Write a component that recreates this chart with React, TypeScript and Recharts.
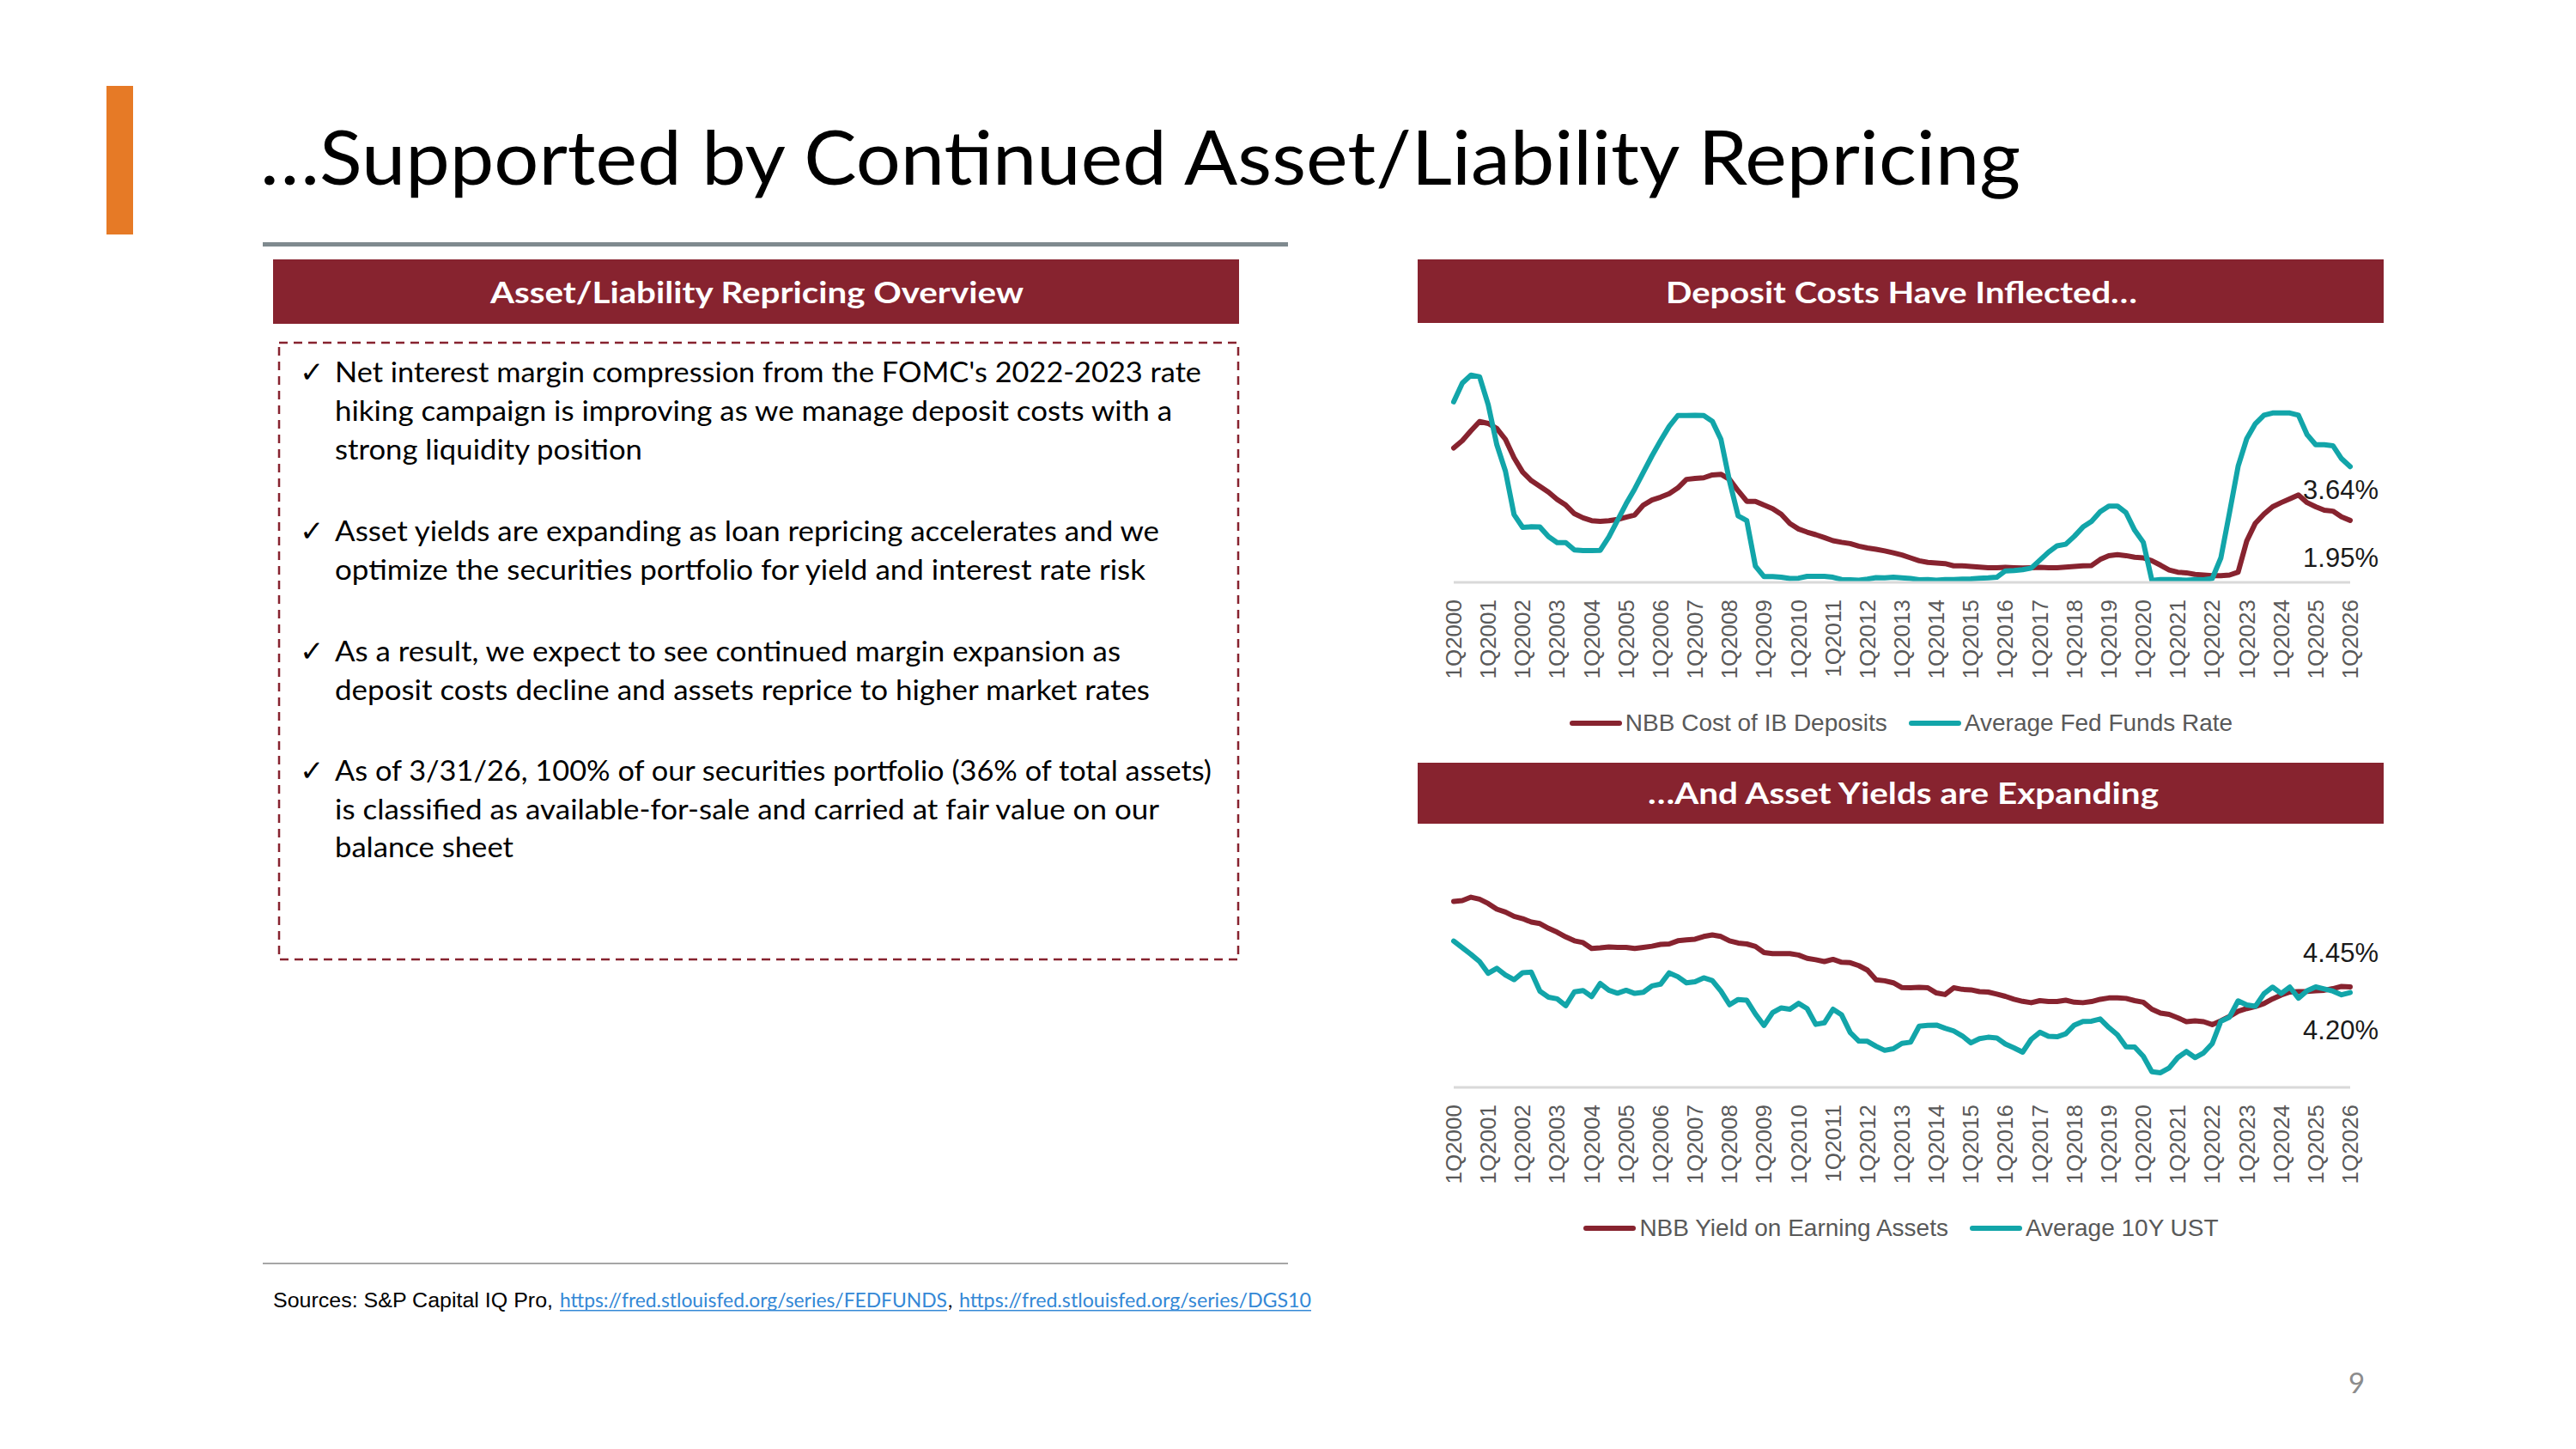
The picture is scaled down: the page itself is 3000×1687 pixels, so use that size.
import React from 'react';
import { LineChart, Line, XAxis, YAxis, Legend, LabelList } from 'recharts';

const RED = '#87232f';
const TEAL = '#12a5a9';
const AXIS_GREY = '#d9d9d9';
const TICK_GREY = '#595959';
const CHART_FONT = '"Liberation Sans", Arial, sans-serif';
const SLIDE_FONT = 'Lato, "Open Sans", sans-serif';

// quarter labels 1Q2000 .. 1Q2026
const years = [
  2000, 2001, 2002, 2003, 2004, 2005, 2006, 2007, 2008, 2009, 2010, 2011, 2012, 2013,
  2014, 2015, 2016, 2017, 2018, 2019, 2020, 2021, 2022, 2023, 2024, 2025, 2026,
];
const quarters: string[] = [];
years.forEach((y) => {
  [1, 2, 3, 4].forEach((q) => {
    if (y < 2026 || q === 1) quarters.push(`${q}Q${y}`);
  });
});

// NBB cost of interest-bearing deposits (%)
const ibDepositCost = [
  4.23, 4.46, 4.77, 5.06, 5.0, 4.84, 4.5, 3.92, 3.47, 3.2, 3.02, 2.84,
  2.61, 2.43, 2.16, 2.03, 1.94, 1.92, 1.94, 1.98, 2.05, 2.12, 2.43, 2.59,
  2.68, 2.79, 2.97, 3.24, 3.27, 3.29, 3.38, 3.4, 3.24, 2.88, 2.55, 2.55,
  2.43, 2.32, 2.14, 1.85, 1.68, 1.58, 1.5, 1.41, 1.31, 1.26, 1.22, 1.14,
  1.08, 1.04, 0.99, 0.93, 0.86, 0.77, 0.68, 0.63, 0.61, 0.59, 0.52, 0.52,
  0.5, 0.48, 0.46, 0.46, 0.47, 0.46, 0.45, 0.46, 0.47, 0.46, 0.46, 0.48,
  0.5, 0.52, 0.53, 0.72, 0.84, 0.87, 0.84, 0.79, 0.77, 0.68, 0.54, 0.39,
  0.32, 0.3, 0.25, 0.23, 0.21, 0.21, 0.23, 0.32, 1.3, 1.86, 2.15, 2.38,
  2.51, 2.63, 2.75, 2.51, 2.38, 2.27, 2.24, 2.06, 1.95,
];

// average effective fed funds rate (%)
const fedFundsRate = [
  5.68, 6.27, 6.52, 6.47, 5.59, 4.33, 3.5, 2.13, 1.73, 1.75, 1.74, 1.44,
  1.25, 1.25, 1.02, 1.0, 1.0, 1.01, 1.43, 1.95, 2.47, 2.94, 3.46, 3.98,
  4.46, 4.91, 5.25, 5.25, 5.26, 5.25, 5.07, 4.5, 3.18, 2.09, 1.94, 0.51,
  0.18, 0.18, 0.16, 0.12, 0.13, 0.19, 0.19, 0.19, 0.16, 0.09, 0.08, 0.07,
  0.1, 0.15, 0.14, 0.16, 0.14, 0.12, 0.08, 0.09, 0.07, 0.09, 0.09, 0.1,
  0.11, 0.13, 0.14, 0.16, 0.36, 0.37, 0.4, 0.45, 0.7, 0.95, 1.15, 1.2,
  1.45, 1.74, 1.92, 2.22, 2.4, 2.4, 2.19, 1.64, 1.26, 0.06, 0.09, 0.09,
  0.08, 0.07, 0.09, 0.08, 0.12, 0.77, 2.19, 3.65, 4.52, 4.99, 5.26, 5.33,
  5.33, 5.33, 5.26, 4.65, 4.33, 4.33, 4.3, 3.89, 3.64,
];

// NBB yield on earning assets (%)
const earningAssetYield = [
  8.23, 8.27, 8.42, 8.33, 8.14, 7.89, 7.76, 7.57, 7.47, 7.32, 7.25, 7.04,
  6.87, 6.66, 6.49, 6.41, 6.15, 6.18, 6.22, 6.2, 6.2, 6.15, 6.2, 6.25,
  6.33, 6.35, 6.49, 6.53, 6.56, 6.68, 6.75, 6.68, 6.49, 6.39, 6.35, 6.24,
  5.97, 5.92, 5.92, 5.92, 5.86, 5.71, 5.65, 5.57, 5.67, 5.54, 5.52, 5.39,
  5.19, 4.76, 4.72, 4.63, 4.42, 4.41, 4.43, 4.41, 4.18, 4.11, 4.41, 4.34,
  4.32, 4.24, 4.22, 4.13, 4.03, 3.9, 3.81, 3.75, 3.84, 3.8, 3.8, 3.86,
  3.77, 3.75, 3.8, 3.9, 3.96, 3.96, 3.94, 3.84, 3.77, 3.46, 3.29, 3.23,
  3.08, 2.91, 2.95, 2.91, 2.78, 2.95, 3.14, 3.37, 3.49, 3.58, 3.71, 3.92,
  4.09, 4.22, 4.24, 4.25, 4.28, 4.3, 4.37, 4.47, 4.45,
];

// average 10-year treasury yield (%)
const tenYearUst = [
  6.48, 6.18, 5.89, 5.57, 5.05, 5.27, 4.98, 4.77, 5.08, 5.1, 4.26, 3.99,
  3.92, 3.62, 4.23, 4.29, 4.02, 4.6, 4.3, 4.17, 4.3, 4.16, 4.21, 4.49,
  4.57, 5.07, 4.9, 4.63, 4.68, 4.85, 4.73, 4.26, 3.66, 3.89, 3.86, 3.25,
  2.74, 3.31, 3.52, 3.46, 3.72, 3.49, 2.79, 2.86, 3.46, 3.21, 2.43, 2.05,
  2.04, 1.82, 1.64, 1.71, 1.95, 2.0, 2.71, 2.75, 2.76, 2.62, 2.5, 2.28,
  1.97, 2.16, 2.22, 2.19, 1.92, 1.75, 1.56, 2.13, 2.44, 2.26, 2.24, 2.37,
  2.76, 2.92, 2.93, 3.03, 2.65, 2.33, 1.8, 1.79, 1.38, 0.69, 0.65, 0.86,
  1.32, 1.59, 1.32, 1.53, 1.94, 2.93, 3.11, 3.83, 3.65, 3.59, 4.15, 4.44,
  4.16, 4.44, 3.95, 4.28, 4.45, 4.36, 4.26, 4.1, 4.2,
];

const depositRows = quarters.map((quarter, i) => ({
  quarter,
  cost: ibDepositCost[i],
  fed: fedFundsRate[i],
}));

const yieldRows = quarters.map((quarter, i) => ({
  quarter,
  yld: earningAssetYield[i],
  ust: tenYearUst[i],
}));

const bulletLines = [
  { text: "Net interest margin compression from the FOMC's 2022-2023 rate", y: 445, w: 1009, check: true },
  { text: 'hiking campaign is improving as we manage deposit costs with a', y: 490, w: 975, check: false },
  { text: 'strong liquidity position', y: 535, w: 358, check: false },
  { text: 'Asset yields are expanding as loan repricing accelerates and we', y: 630, w: 960, check: true },
  { text: 'optimize the securities portfolio for yield and interest rate risk', y: 675, w: 944, check: false },
  { text: 'As a result, we expect to see continued margin expansion as', y: 770, w: 915, check: true },
  { text: 'deposit costs decline and assets reprice to higher market rates', y: 815, w: 949, check: false },
  { text: 'As of 3/31/26, 100% of our securities portfolio (36% of total assets)', y: 909, w: 1021, check: true },
  { text: 'is classified as available-for-sale and carried at fair value on our', y: 954, w: 960, check: false },
  { text: 'balance sheet', y: 998, w: 208, check: false },
];

const QuarterTick = (props: any) => {
  const { x, payload, labelY } = props;
  return (
    <text
      x={x}
      y={labelY}
      transform={`rotate(-90, ${x}, ${labelY})`}
      textAnchor="end"
      dominantBaseline="central"
      fontFamily={CHART_FONT}
      fontSize={26}
      fill={TICK_GREY}
    >
      {payload.value}
    </text>
  );
};

// legend keeps the series drawing order instead of alphabetical
const LegendRow = ({ payload, order }: any) => {
  const items = [...(payload || [])].sort(
    (a: any, b: any) => order.indexOf(a.dataKey) - order.indexOf(b.dataKey),
  );
  return (
    <div
      style={{
        display: 'flex',
        justifyContent: 'center',
        alignItems: 'center',
        height: 30,
        fontFamily: CHART_FONT,
        fontSize: 28,
        color: TICK_GREY,
      }}
    >
      {items.map((item: any, i: number) => (
        <div key={i} style={{ display: 'flex', alignItems: 'center', marginLeft: i ? 25 : 0 }}>
          <svg width={61} height={10}>
            <line x1={3} y1={5} x2={58} y2={5} stroke={item.color} strokeWidth={6} strokeLinecap="round" />
          </svg>
          <span style={{ marginLeft: 4, whiteSpace: 'nowrap' }}>{item.value}</span>
        </div>
      ))}
    </div>
  );
};

// value label next to the latest quarter only
const endLabel = (dy: number) => (props: any) => {
  const last = quarters.length - 1;
  const isLast = props.index === last || props.payload?.quarter === quarters[last];
  if (!isLast) return null;
  const x = props.x ?? props.viewBox?.x;
  const y = props.y ?? props.viewBox?.y;
  return (
    <text
      x={x + 33}
      y={y + dy}
      textAnchor="end"
      dominantBaseline="central"
      fontFamily={CHART_FONT}
      fontSize={31}
      fill="#1a1a1a"
    >
      {`${Number(props.value).toFixed(2)}%`}
    </text>
  );
};

type SeriesDef = { key: string; name: string; color: string; labelDy: number };

type RateChartProps = {
  top: number;
  data: any[];
  series: SeriesDef[];
  plotTop: number;
  plotBottom: number;
  yMax: number;
  legendTop: number;
};

const CHART_W = 1126;
const CHART_H = 500;

function RateChart({ top, data, series, plotTop, plotBottom, yMax, legendTop }: RateChartProps) {
  return (
    <div style={{ position: 'absolute', left: 1651, top, width: CHART_W, height: CHART_H }}>
      <LineChart
        width={CHART_W}
        height={CHART_H}
        data={data}
        margin={{ top: plotTop, right: 40, left: 42, bottom: 0 }}
      >
        <XAxis
          dataKey="quarter"
          interval={3}
          tickLine={false}
          axisLine={{ stroke: AXIS_GREY, strokeWidth: 3 }}
          height={CHART_H - plotBottom}
          tick={<QuarterTick labelY={plotBottom + 20} />}
        />
        <YAxis hide type="number" domain={[0, yMax]} />
        <Legend
          verticalAlign="middle"
          align="center"
          layout="horizontal"
          content={<LegendRow order={series.map((s) => s.key)} />}
          wrapperStyle={{ top: legendTop, left: 0, width: CHART_W, height: 30 }}
        />
        {series.map((s) => (
          <Line
            key={s.key}
            type="linear"
            dataKey={s.key}
            name={s.name}
            stroke={s.color}
            strokeWidth={6}
            strokeLinejoin="round"
            strokeLinecap="round"
            dot={false}
            activeDot={false}
            isAnimationActive={false}
          >
            <LabelList dataKey={s.key} content={endLabel(s.labelDy)} />
          </Line>
        ))}
      </LineChart>
    </div>
  );
}

export default function App() {
  return (
    <div
      style={{
        position: 'absolute',
        left: 0,
        top: 0,
        width: 3000,
        height: 1687,
        background: '#ffffff',
        overflow: 'hidden',
      }}
    >
      <svg width={3000} height={1687} style={{ position: 'absolute', left: 0, top: 0 }}>
        <rect x={124} y={100} width={31} height={173} fill="#e67a26" />
        <text
          x={303}
          y={215}
          fontFamily={SLIDE_FONT}
          fontSize={88}
          textLength={2050}
          lengthAdjust="spacingAndGlyphs"
          fill="#000"
        >
          …Supported by Continued Asset/Liability Repricing
        </text>
        <rect x={306} y={282} width={1194} height={5} fill="#7f8a8f" />

        {/* left panel */}
        <rect x={318} y={302} width={1125} height={75} fill={RED} />
        <text
          x={571}
          y={353}
          fontFamily={SLIDE_FONT}
          fontWeight={700}
          fontSize={35}
          textLength={621}
          lengthAdjust="spacingAndGlyphs"
          fill="#fff"
        >
          Asset/Liability Repricing Overview
        </text>
        <rect
          x={325}
          y={399}
          width={1117}
          height={718}
          fill="none"
          stroke={RED}
          strokeWidth={2.5}
          strokeDasharray="10 7"
        />
        {bulletLines.map((l, i) => (
          <g key={i}>
            {l.check && (
              <text x={349} y={l.y} fontFamily='"DejaVu Sans", sans-serif' fontSize={34} fill="#000">
                ✓
              </text>
            )}
            <text
              x={390}
              y={l.y}
              fontFamily={SLIDE_FONT}
              fontSize={32}
              textLength={l.w}
              lengthAdjust="spacingAndGlyphs"
              fill="#000"
            >
              {l.text}
            </text>
          </g>
        ))}

        {/* right panel headers */}
        <rect x={1651} y={302} width={1125} height={74} fill={RED} />
        <text
          x={1940}
          y={353}
          fontFamily={SLIDE_FONT}
          fontWeight={700}
          fontSize={35}
          textLength={549}
          lengthAdjust="spacingAndGlyphs"
          fill="#fff"
        >
          Deposit Costs Have Inflected…
        </text>
        <rect x={1651} y={888} width={1125} height={71} fill={RED} />
        <text
          x={1919}
          y={936}
          fontFamily={SLIDE_FONT}
          fontWeight={700}
          fontSize={35}
          textLength={595}
          lengthAdjust="spacingAndGlyphs"
          fill="#fff"
        >
          …And Asset Yields are Expanding
        </text>

        {/* footer */}
        <rect x={306} y={1470} width={1194} height={2} fill="#a6a6a6" />
        <text
          x={318}
          y={1522}
          fontFamily={CHART_FONT}
          fontSize={23}
          textLength={326}
          lengthAdjust="spacingAndGlyphs"
          fill="#000"
        >
          Sources: S&amp;P Capital IQ Pro,
        </text>
        <text
          x={652}
          y={1522}
          fontFamily={SLIDE_FONT}
          fontSize={23}
          textLength={451}
          lengthAdjust="spacingAndGlyphs"
          fill="#3388d6"
        >
          https://fred.stlouisfed.org/series/FEDFUNDS
        </text>
        <rect x={652} y={1525} width={451} height={1.5} fill="#3388d6" />
        <text x={1104} y={1522} fontFamily={SLIDE_FONT} fontSize={23} fill="#000">
          ,
        </text>
        <text
          x={1117}
          y={1522}
          fontFamily={SLIDE_FONT}
          fontSize={23}
          textLength={410}
          lengthAdjust="spacingAndGlyphs"
          fill="#3388d6"
        >
          https://fred.stlouisfed.org/series/DGS10
        </text>
        <rect x={1117} y={1525} width={410} height={1.5} fill="#3388d6" />
        <text x={2735} y={1622} fontFamily={SLIDE_FONT} fontSize={33} fill="#8c8c8c">
          9
        </text>
      </svg>

      <RateChart
        top={380}
        data={depositRows}
        series={[
          { key: 'cost', name: 'NBB Cost of IB Deposits', color: RED, labelDy: 44 },
          { key: 'fed', name: 'Average Fed Funds Rate', color: TEAL, labelDy: 27 },
        ]}
        plotTop={2}
        plotBottom={298}
        yMax={8}
        legendTop={447}
      />
      <RateChart
        top={960}
        data={yieldRows}
        series={[
          { key: 'yld', name: 'NBB Yield on Earning Assets', color: RED, labelDy: -39 },
          { key: 'ust', name: 'Average 10Y UST', color: TEAL, labelDy: 44 },
        ]}
        plotTop={43}
        plotBottom={306}
        yMax={10}
        legendTop={455}
      />
    </div>
  );
}
